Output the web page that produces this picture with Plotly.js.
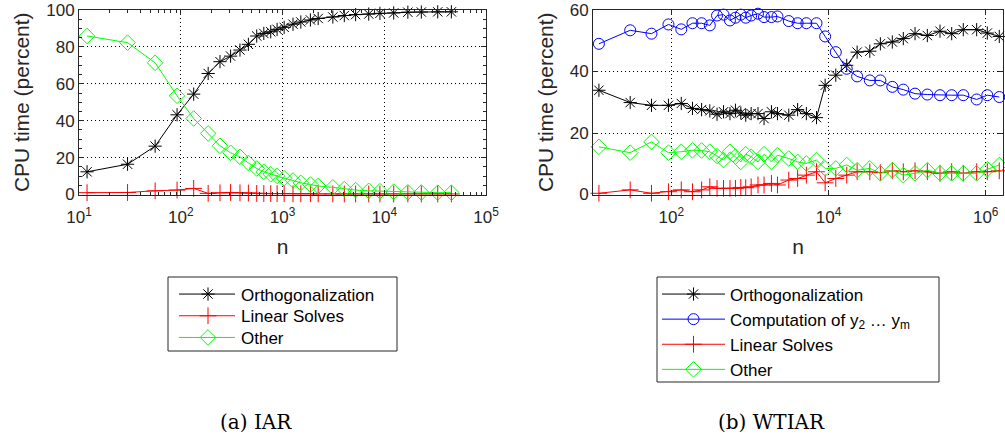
<!DOCTYPE html>
<html>
<head>
<meta charset="utf-8">
<script src="https://cdn.plot.ly/plotly-3.0.1.min.js"></script>
<style>html,body{margin:0;padding:0;background:#fff;}#chart{width:1005px;height:435px;}</style>
</head>
<body>
<div id="chart"></div>
<script>
// Problem sizes n (shared by both panels)
const nAll = [12, 30, 56, 92, 134, 186, 243, 309, 382, 462, 558, 655, 766, 885, 1038, 1268, 1514, 1880, 2243, 3124, 4050, 5230, 7038, 9068, 12383, 17058, 23145, 33545, 45695,
  64860, 89520, 126200, 180900, 262300, 369300, 518700, 767600, 1048000, 1489000];
const nIAR = nAll.slice(0, 29);
const nWTIAR = nAll;

// (a) IAR
const iarOrth = [12.3, 16.4, 26.2, 43.2, 54.4, 65.6, 72.0, 75.0, 78.3, 81.4, 85.9, 87.3, 88.2, 89.5, 90.6, 92.3, 93.5, 94.6, 95.4, 96.2, 97.0, 97.5, 97.8, 98.2, 98.4, 98.8, 98.9, 99.0, 99.0];
const iarLin = [1.0, 1.1, 2.0, 2.4, 3.3, 0.6, 0.9, 1.1, 0.9, 0.8, 0.6, 0.5, 0.5, 0.5, 0.5, 0.4, 0.4, 0.4, 0.3, 0.3, 0.3, 0.3, 0.3, 0.3, 0.3, 0.3, 0.3, 0.3, 0.3];
const iarOther = [85.9, 82.3, 71.4, 53.5, 41.2, 33.1, 26.4, 22.6, 20.4, 17.1, 14.1, 12.3, 11.0, 10.1, 8.8, 7.6, 6.3, 5.4, 4.6, 3.9, 3.0, 2.4, 2.0, 1.8, 1.5, 1.2, 1.1, 1.0, 1.0];

// (b) WTIAR
const wtOrth = [33.9, 29.9, 29.0, 29.0, 29.6, 28.0, 27.6, 27.2, 26.1, 26.9, 26.3, 27.4, 26.5, 25.8, 26.3, 26.3, 24.7, 26.9, 26.3, 25.8, 27.6, 26.3, 25.0,
  35.5, 38.8, 42.0, 46.3, 46.6, 49.0, 49.6, 50.7, 52.3, 51.7, 53.1, 52.3, 53.6, 53.6, 52.5, 51.4];
const wtComp = [49.0, 53.4, 52.3, 55.3, 53.7, 55.7, 55.7, 55.0, 58.2, 58.5, 56.6, 57.5, 58.5, 57.5, 58.2, 58.8, 57.7, 57.7, 57.9, 56.4, 55.7, 55.7, 55.7,
  51.4, 46.3, 40.9, 38.4, 37.1, 37.1, 35.0, 34.1, 32.8, 32.5, 32.3, 32.3, 32.3, 30.9, 32.3, 31.7];
const wtLin = [0.4, 1.5, 0.4, 0.9, 1.5, 0.9, 1.5, 2.5, 2.0, 2.0, 2.0, 2.0, 2.3, 2.2, 2.5, 3.1, 3.1, 3.6, 3.1, 4.7, 5.2, 6.3, 7.4,
  3.8, 5.2, 6.3, 7.4, 7.4, 7.1, 7.7, 7.4, 7.7, 7.4, 6.9, 7.4, 6.9, 7.4, 7.4, 7.7];
const wtOther = [15.5, 13.6, 17.1, 13.6, 13.9, 14.4, 14.3, 13.9, 12.5, 11.2, 13.9, 12.3, 10.6, 13.1, 12.3, 10.6, 13.1, 10.6, 12.8, 11.7, 10.6, 10.1, 11.2,
  8.5, 8.5, 9.6, 7.9, 8.5, 6.9, 7.9, 6.3, 6.9, 7.9, 6.9, 6.9, 6.9, 6.9, 8.2, 9.6];

// labels
const leftXTicks = [10, 100, 1000, 10000, 100000];
const leftXTickText = ['10<sup>1</sup>', '10<sup>2</sup>', '10<sup>3</sup>', '10<sup>4</sup>', '10<sup>5</sup>'];
const leftXMinor = [20, 30, 40, 50, 60, 70, 80, 90, 200, 300, 400, 500, 600, 700, 800, 900,
  2000, 3000, 4000, 5000, 6000, 7000, 8000, 9000, 20000, 30000, 40000, 50000, 60000, 70000, 80000, 90000];
const rightXTicks = [100, 10000, 1000000];
const rightXTickText = ['10<sup>2</sup>', '10<sup>4</sup>', '10<sup>6</sup>'];
const seriesNames = ['Orthogonalization', 'Computation of y<sub>2</sub> … y<sub>m</sub>', 'Linear Solves', 'Other'];
const captions = ['(a) IAR', '(b) WTIAR'];
const yTitle = 'CPU time (percent)';
const xTitle = 'n';

const BLACK = '#000000', RED = '#ff0000', GREEN = '#00ff00', BLUE = '#0000ff';
const TXT = '#262626';

function tr(x, y, name, color, symbol, size, xa, ya, leg) {
  return {
    x: x, y: y, name: name, type: 'scatter', mode: 'lines+markers',
    xaxis: xa, yaxis: ya, legend: leg,
    line: {color: color, width: 1},
    marker: {symbol: symbol, size: size, color: color, line: {color: color, width: 1}},
    cliponaxis: false
  };
}

const data = [
  tr(nIAR, iarOrth, seriesNames[0], BLACK, 'asterisk-open', 11, 'x', 'y', 'legend'),
  tr(nIAR, iarLin, seriesNames[2], RED, 'cross-thin-open', 12, 'x', 'y', 'legend'),
  tr(nIAR, iarOther, seriesNames[3], GREEN, 'diamond-open', 12, 'x', 'y', 'legend'),
  tr(nWTIAR, wtOrth, seriesNames[0], BLACK, 'asterisk-open', 11, 'x2', 'y2', 'legend2'),
  tr(nWTIAR, wtComp, seriesNames[1], BLUE, 'circle-open', 11, 'x2', 'y2', 'legend2'),
  tr(nWTIAR, wtLin, seriesNames[2], RED, 'cross-thin-open', 12, 'x2', 'y2', 'legend2'),
  tr(nWTIAR, wtOther, seriesNames[3], GREEN, 'diamond-open', 12, 'x2', 'y2', 'legend2')
];

const W = 1005, H = 435;
const SANS = 'Liberation Sans, Arial, sans-serif';
const axFont = {family: SANS, size: 17, color: TXT};
const titleFont = {family: SANS, size: 21, color: TXT};

function xAxis(domain, range, tv, tt, minorVals) {
  const a = {
    type: 'log', domain: domain, range: range, tickvals: tv, ticktext: tt,
    showline: true, mirror: 'ticks', linecolor: TXT, linewidth: 1,
    ticks: 'inside', ticklen: 5, tickcolor: TXT, ticklabelstandoff: 7,
    showgrid: true, gridcolor: '#000', griddash: '1px,3px', gridwidth: 1,
    zeroline: false, tickfont: axFont,
    title: {text: xTitle, font: titleFont, standoff: 13},
    automargin: false
  };
  if (minorVals) a.minor = {tickmode: 'array', tickvals: minorVals, ticks: 'inside', ticklen: 3, tickcolor: TXT, showgrid: false};
  return a;
}
function yAxis(domain, range, anchor, minor) {
  const a = {
    domain: domain, range: range, dtick: 20, anchor: anchor,
    showline: true, mirror: 'ticks', linecolor: TXT, linewidth: 1,
    ticks: 'inside', ticklen: 5, tickcolor: TXT,
    showgrid: true, gridcolor: '#000', griddash: '1px,3px', gridwidth: 1,
    zeroline: false, tickfont: axFont,
    title: {text: yTitle, font: titleFont, standoff: 10},
    automargin: false
  };
  if (minor) a.minor = {ticks: 'inside', ticklen: 3, tickcolor: TXT, dtick: 5, showgrid: false};
  return a;
}

const yDom = [1 - 194.5 / H, 1 - 10 / H];
const legFont = {family: SANS, size: 17, color: '#000'};
const capFont = {family: 'DejaVu Serif, Liberation Serif, serif', size: 20, color: '#000'};

function boxShape(x0, x1, y0, y1) {
  return {type: 'rect', xref: 'paper', yref: 'paper', x0: x0 / W, x1: x1 / W, y0: 1 - y1 / H, y1: 1 - y0 / H,
    line: {color: TXT, width: 1}, fillcolor: '#ffffff', layer: 'below'};
}

const layout = {
  width: W, height: H,
  margin: {l: 0, r: 0, t: 0, b: 0},
  paper_bgcolor: '#fff', plot_bgcolor: '#fff',
  showlegend: true,
  xaxis: xAxis([79 / W, 486 / W], [1, 5], leftXTicks, leftXTickText, leftXMinor),
  yaxis: yAxis(yDom, [0, 100], 'x', true),
  xaxis2: Object.assign(xAxis([593 / W, 1003.3 / W], [1.004, 6.224], rightXTicks, rightXTickText, null), {anchor: 'y2'}),
  yaxis2: yAxis(yDom, [0, 60], 'x2', false),
  legend: {
    x: 168 / W, y: 1 - 276.5 / H, xanchor: 'left', yanchor: 'top', xref: 'paper', yref: 'paper',
    bgcolor: 'rgba(0,0,0,0)', borderwidth: 0, font: legFont, tracegroupgap: 0, itemwidth: 63
  },
  legend2: {
    x: 657 / W, y: 1 - 276.5 / H, xanchor: 'left', yanchor: 'top', xref: 'paper', yref: 'paper',
    bgcolor: 'rgba(0,0,0,0)', borderwidth: 0, font: legFont, tracegroupgap: 0, itemwidth: 63
  },
  shapes: [boxShape(168, 397, 277, 351), boxShape(657, 939, 277, 382)],
  annotations: [
    {text: captions[0], x: 255.5 / W, y: 1 - 421.5 / H, xref: 'paper', yref: 'paper', showarrow: false,
     xanchor: 'center', yanchor: 'middle', font: capFont},
    {text: captions[1], x: 771 / W, y: 1 - 421.5 / H, xref: 'paper', yref: 'paper', showarrow: false,
     xanchor: 'center', yanchor: 'middle', font: capFont}
  ]
};

// relative row offsets for the two legends (px)
const rowOffsets = [[0, 21.7, 43.4], [0, 24.5, 49, 71]];

const gd = document.getElementById('chart');
Plotly.newPlot(gd, data, layout, {displayModeBar: false, staticPlot: true}).then(function () {
  const legends = gd.querySelectorAll('g.legend');
  legends.forEach(function (lg, li) {
    const offs = rowOffsets[li] || [];
    const items = lg.querySelectorAll('g.traces');
    let y0 = null;
    items.forEach(function (t, i) {
      // lengthen sample line, centre the symbol on it
      t.querySelectorAll('.legendlines path').forEach(function (p) { p.setAttribute('d', 'M11,0h56'); });
      t.querySelectorAll('.legendpoints path.scatterpts').forEach(function (p) { p.setAttribute('transform', 'translate(40,0)'); });
      const m = /translate\(\s*([-\d.]+)[ ,]+([-\d.]+)\s*\)/.exec(t.getAttribute('transform') || '');
      if (m) {
        const x = parseFloat(m[1]), y = parseFloat(m[2]);
        if (y0 === null) y0 = y;
        if (offs[i] !== undefined) t.setAttribute('transform', 'translate(' + x + ',' + (y0 + offs[i]) + ')');
      }
    });
  });
});
</script>
</body>
</html>
